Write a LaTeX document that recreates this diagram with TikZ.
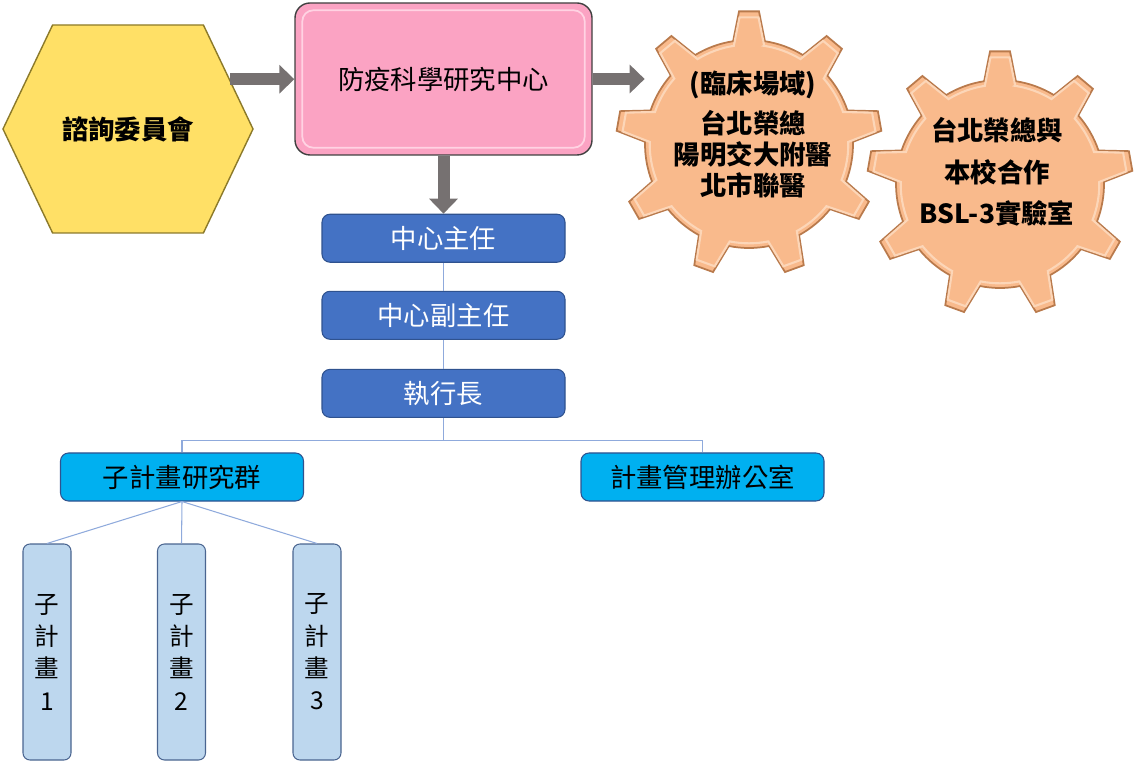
\documentclass[tikz,border=0pt]{standalone}
\usepackage{fontspec}
\setmainfont{Noto Sans CJK TC}
\usepackage{tikz}
\usetikzlibrary{positioning}
\usetikzlibrary{arrows.meta}
\usetikzlibrary{shapes.symbols}
\definecolor{hexfill}{HTML}{FFE066}
\definecolor{hexedge}{HTML}{8C7A2A}
\definecolor{hexlight}{HTML}{FFF0A8}
\definecolor{pinkfill}{HTML}{FBA3C3}
\definecolor{pinkedge}{HTML}{404040}
\definecolor{pinklight}{HTML}{FFD3E3}
\definecolor{rolefill}{HTML}{4472C4}
\definecolor{roleedge}{HTML}{2F528F}
\definecolor{groupfill}{HTML}{00B0F0}
\definecolor{subfill}{HTML}{BDD7EE}
\definecolor{subedge}{HTML}{4A6590}
\definecolor{gearfill}{HTML}{F9BA8C}
\definecolor{gearedge}{HTML}{B97A4C}
\definecolor{gearlight}{HTML}{FCD6B8}
\definecolor{arrowgray}{HTML}{767171}
\definecolor{linecolor}{HTML}{8FAADC}
\tikzset{
  hexbox/.style={shape=signal,signal to=east and west,signal pointer angle=129,minimum width=5cm,minimum height=4.16cm,inner sep=0,fill=hexfill,draw=hexedge,line width=0.8pt,font=\fontsize{15pt}{18pt}\selectfont\bfseries},
  centerbox/.style={rectangle,rounded corners=0.3cm,minimum width=5.94cm,minimum height=3.04cm,fill=pinkfill,draw=pinkedge,line width=0.8pt,font=\fontsize{15pt}{18pt}\selectfont},
  rolebox/.style={rectangle,rounded corners=0.16cm,minimum width=4.86cm,minimum height=0.96cm,inner sep=0,fill=rolefill,draw=roleedge,line width=0.6pt,text=white,font=\fontsize{15pt}{18pt}\selectfont},
  groupbox/.style={rolebox,fill=groupfill,text=black},
  subbox/.style={rectangle,rounded corners=0.14cm,minimum width=0.96cm,minimum height=4.32cm,inner sep=0,fill=subfill,draw=subedge,line width=0.6pt,align=center,font=\fontsize{14pt}{18.4pt}\selectfont},
  gearbody/.style={circle,minimum size=4.16cm,inner sep=0},
  gear/.style={fill=gearfill,draw=gearedge,line width=1pt},
  gearhi/.style={draw=gearlight,line width=1.2pt,scale=0.955},
  geartext/.style={align=center,font=\fontsize{15pt}{17.6pt}\selectfont\bfseries},
  bigarrow/.style={draw=arrowgray,line width=0.24cm,-{Triangle[width=0.56cm,length=0.3cm]}},
  orgline/.style={draw=linecolor,line width=0.6pt}
}
\newcommand\gearoutline{(81.2:2.08)
    \foreach \a in {90,130,...,410}{
      -- (\a-4.3:2.66) -- (\a+4.3:2.66) -- (\a+8.8:2.08)
      arc[start angle=\a+8.8,end angle=\a+31.2,radius=2.08]
    } -- cycle}

\begin{document}
\begin{tikzpicture}
  \useasboundingbox (0,0) rectangle (22.76,15.24);
  \node[hexbox] (hex) at (2.56,12.66) {諮詢委員會};
  \node[centerbox] (center) at (8.87,13.66) {防疫科學研究中心};
  \draw[pinklight,line width=1pt,rounded corners=0.22cm] ([shift={(0.16,-0.16)}]center.north west) rectangle ([shift={(-0.16,0.16)}]center.south east);
  \node[rolebox,below=1.16cm of center] (head) {中心主任};
  \node[rolebox,below=0.56cm of head] (deputy) {中心副主任};
  \node[rolebox,below=0.58cm of deputy] (ceo) {執行長};
  \node[groupbox] (group) at (3.64,5.70) {子計畫研究群};
  \node[groupbox] (office) at (14.05,5.70) {計畫管理辦公室};
  \node[gearbody] (gearA) at (14.98,12.36) {};
  \node[gearbody] (gearB) at (20.0,11.56) {};
  \filldraw[gear,shift={(gearA)}] \gearoutline;
  \draw[gearhi,shift={(gearA)}] \gearoutline;
  \filldraw[gear,shift={(gearB)}] \gearoutline;
  \draw[gearhi,shift={(gearB)}] \gearoutline;
  \node[geartext] (gearAtext) at ([xshift=0.08cm,yshift=0.2cm]gearA) {(臨床場域)\\[0.18cm]台北榮總\\陽明交大附醫\\北市聯醫};
  \node[geartext,font=\fontsize{15pt}{23.5pt}\selectfont\bfseries] (gearBtext) at ([xshift=-0.06cm,yshift=0.24cm]gearB) {台北榮總與\\本校合作\\BSL-3實驗室};
  \draw[bigarrow] (hex.26) -- (hex.26 -| center.west);
  \draw[bigarrow] (center.east) -- (center.east -| gearA.west);
  \draw[bigarrow] (center.south) -- (head.north);
  \draw[orgline] (head) -- (deputy);
  \draw[orgline] (deputy) -- (ceo);
  \draw[orgline] (ceo.south) -- ++(0,-0.46) -| (group.north);
  \draw[orgline] (ceo.south) -- ++(0,-0.46) -| (office.north);
  \foreach \i/\x in {1/0.94,2/3.63,3/6.34}{
    \node[subbox] (sub\i) at (\x,2.2) {子\\計\\畫\\\i};
    \draw[orgline] (group.south) -- (sub\i.north);
  }
\end{tikzpicture}
\end{document}
